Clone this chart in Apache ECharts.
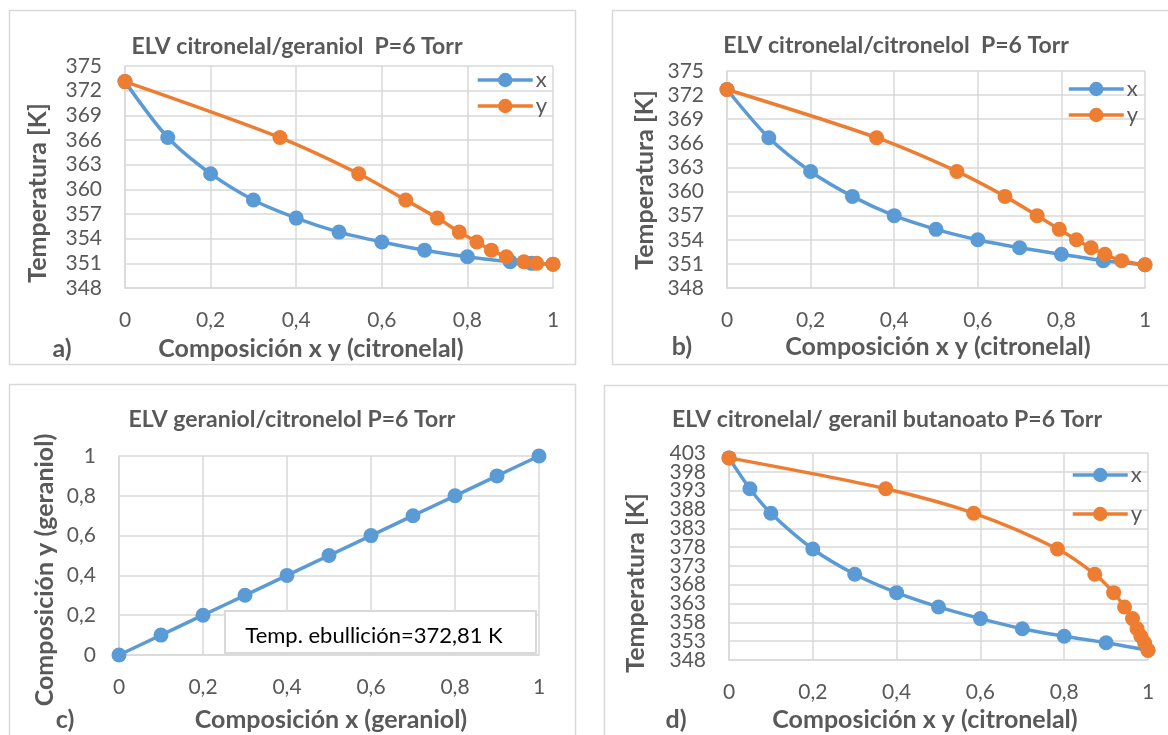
<!DOCTYPE html>
<html>
<head>
<meta charset="utf-8">
<script src="https://cdn.jsdelivr.net/npm/echarts@6/dist/echarts.min.js"></script>
<style>
  html, body { margin: 0; padding: 0; background: #ffffff; }
  #chart { width: 1168px; height: 735px; }
</style>
</head>
<body>
<div id="chart"></div>
<script>
// ---------- data ----------
// a) citronelal / geraniol
const tempA = [373.1, 366.3, 361.9, 358.7, 356.5, 354.8, 353.6, 352.6, 351.8, 351.2, 351.0, 350.9];
const liqA  = [0, 0.1, 0.2, 0.3, 0.4, 0.5, 0.6, 0.7, 0.8, 0.9, 0.95, 1];
const vapA  = [0, 0.362, 0.546, 0.656, 0.730, 0.781, 0.822, 0.856, 0.891, 0.932, 0.962, 1];
// b) citronelal / citronelol
const tempB = [372.7, 366.7, 362.5, 359.4, 357.0, 355.3, 354.0, 353.0, 352.2, 351.4, 350.9];
const liqB  = [0, 0.1, 0.2, 0.3, 0.4, 0.5, 0.6, 0.7, 0.8, 0.9, 1];
const vapB  = [0, 0.358, 0.550, 0.665, 0.742, 0.795, 0.836, 0.871, 0.904, 0.944, 1];
// c) geraniol / citronelol (x-y)
const liqC  = [0, 0.1, 0.2, 0.3, 0.4, 0.5, 0.6, 0.7, 0.8, 0.9, 1];
const vapC  = [0, 0.1, 0.2, 0.3, 0.4, 0.5, 0.6, 0.7, 0.8, 0.9, 1];
// d) citronelal / geranil butanoato
const tempD = [401.7, 393.5, 387.0, 377.5, 370.8, 365.9, 362.1, 359.0, 356.3, 354.3, 352.6, 350.6];
const liqD  = [0, 0.05, 0.1, 0.2, 0.3, 0.4, 0.5, 0.6, 0.7, 0.8, 0.9, 1];
const vapD  = [0, 0.374, 0.584, 0.784, 0.873, 0.918, 0.944, 0.963, 0.974, 0.983, 0.992, 1];

const titles = ['ELV citronelal/geraniol  P=6 Torr', 'ELV citronelal/citronelol  P=6 Torr',
                'ELV geraniol/citronelol P=6 Torr', 'ELV citronelal/ geranil butanoato P=6 Torr'];
const xNames = ['Composición x y (citronelal)', 'Composición x y (citronelal)',
                'Composición x (geraniol)', 'Composición x y (citronelal)'];
const yNames = ['Temperatura [K]', 'Temperatura [K]', 'Composición y (geraniol)', 'Temperatura [K]'];
const panelTags = ['a)', 'b)', 'c)', 'd)'];
const boxNote = 'Temp. ebullición=372,81 K';

// ---------- style ----------
const FONT = 'Lato, "Open Sans", sans-serif';
const GRAY = '#595959';
const GRID = '#d9d9d9';
const BLUE = '#5B9BD5';
const ORANGE = '#ED7D31';

const pairs = (xs, ys) => xs.map((v, i) => [v, ys[i]]);
const fmtComma = v => String(Math.round(v * 10) / 10).replace('.', ',');

const grids = [
  { left: 125, top: 66, width: 428, height: 222 },
  { left: 727, top: 71, width: 418, height: 217 },
  { left: 119, top: 456, width: 420, height: 199 },
  { left: 729, top: 453, width: 419, height: 207 }
];
const yRanges = [
  { min: 348, max: 375, interval: 3 },
  { min: 348, max: 375, interval: 3 },
  { min: 0, max: 1, interval: 0.2 },
  { min: 348, max: 403, interval: 5 }
];

function xAxisCfg(i) {
  return {
    type: 'value', gridIndex: i, min: 0, max: 1, interval: 0.2,
    axisLine: { show: true, onZero: false, lineStyle: { color: GRID, width: 1.5 } },
    axisTick: { show: false },
    splitLine: { show: true, lineStyle: { color: GRID, width: 1.5 } },
    axisLabel: { margin: 22, color: GRAY, fontFamily: FONT, fontSize: 21, formatter: fmtComma,
                 showMinLabel: true, showMaxLabel: true, hideOverlap: false }
  };
}
function yAxisCfg(i) {
  const r = yRanges[i];
  const ends = (i === 3) ? false : true;   // panel d: end labels come from the companion axis
  return {
    type: 'value', gridIndex: i, min: r.min, max: r.max, interval: r.interval,
    axisLine: { show: true, onZero: false, lineStyle: { color: GRID, width: 1.5 } },
    axisTick: { show: false },
    splitLine: { show: true, lineStyle: { color: GRID, width: 1.5 } },
    axisLabel: { margin: 23, color: GRAY, fontFamily: FONT, fontSize: 21,
                 showMinLabel: ends, showMaxLabel: ends, hideOverlap: false,
                 formatter: i === 2 ? fmtComma : (v => String(v)) }
  };
}
// companion axis on panel d carrying only the end labels (348 and 403)
const yEndD = {
  type: 'value', gridIndex: 3, position: 'left',
  min: yRanges[3].min, max: yRanges[3].max, interval: yRanges[3].max - yRanges[3].min,
  axisLine: { show: false }, axisTick: { show: false }, splitLine: { show: false },
  axisLabel: { margin: 23, color: GRAY, fontFamily: FONT, fontSize: 21,
               showMinLabel: true, showMaxLabel: true, formatter: v => String(v) }
};

function lineSeries(name, color, i, data) {
  return {
    type: 'line', name: name, xAxisIndex: i, yAxisIndex: i, data: data,
    smooth: 0.3, symbol: 'circle', symbolSize: 15, showSymbol: true,
    itemStyle: { color: color }, lineStyle: { color: color, width: 3.5 },
    emphasis: { disabled: true }
  };
}
function legendCfg(left, top, gap) {
  return {
    left: left, top: top, orient: 'vertical', data: ['x', 'y'],
    itemWidth: 55, itemHeight: 18, itemGap: gap, selectedMode: false,
    lineStyle: { width: 3.5 },
    textStyle: { color: GRAY, fontFamily: FONT, fontSize: 22, lineHeight: 22, padding: [0, 0, 0, -2] }
  };
}
function txt(text, x, y, size, opts) {
  opts = opts || {};
  return {
    type: 'text', x: x, y: y, rotation: opts.rot || 0, z: 100,
    style: {
      text: text, fill: opts.color || GRAY, align: 'center', verticalAlign: 'middle',
      font: (opts.weight || 'bold') + ' ' + size + 'px ' + FONT
    }
  };
}
function box(x, y, w, h, lw) {
  return { type: 'rect', z: 1, shape: { x: x, y: y, width: w, height: h },
           style: { fill: null, stroke: GRID, lineWidth: lw || 1.5 } };
}

const titlePos = [[297, 47], [896, 46], [292, 420], [887, 420]];
const xNamePos = [[311, 349], [938, 347], [331, 720], [925, 720]];
const tagPos   = [[62, 349], [682, 347], [65, 720], [676, 720]];
const yNamePos = [[38, 193], [645, 180], [45, 570], [636, 583]];

const graphics = [
  box(9.5, 10.5, 566, 354),
  box(612.5, 10.5, 600, 354),
  box(9.5, 384.5, 566, 400),
  box(604.5, 385.5, 600, 400)
];
for (let i = 0; i < 4; i++) {
  graphics.push(txt(titles[i], titlePos[i][0], titlePos[i][1], 23));
  graphics.push(txt(xNames[i], xNamePos[i][0], xNamePos[i][1], 25));
  graphics.push(txt(panelTags[i], tagPos[i][0], tagPos[i][1], 25));
  graphics.push(txt(yNames[i], yNamePos[i][0], yNamePos[i][1], 25, { rot: Math.PI / 2 }));
}
graphics.push({ type: 'rect', z: 90, shape: { x: 225, y: 611, width: 311, height: 42 },
                style: { fill: '#ffffff', stroke: GRID, lineWidth: 2 } });
graphics.push(txt(boxNote, 374, 636, 22, { weight: 'normal', color: '#000000' }));

const option = {
  animation: false,
  backgroundColor: '#ffffff',
  grid: grids,
  xAxis: [0, 1, 2, 3].map(xAxisCfg),
  yAxis: [0, 1, 2, 3].map(yAxisCfg).concat([yEndD]),
  legend: [legendCfg(471, 64, 4), legendCfg(1062, 73, 4), legendCfg(1066, 459, 17)],
  series: [
    lineSeries('x', BLUE, 0, pairs(liqA, tempA)),
    lineSeries('y', ORANGE, 0, pairs(vapA, tempA)),
    lineSeries('x', BLUE, 1, pairs(liqB, tempB)),
    lineSeries('y', ORANGE, 1, pairs(vapB, tempB)),
    lineSeries('x', BLUE, 2, pairs(liqC, vapC)),
    lineSeries('x', BLUE, 3, pairs(liqD, tempD)),
    lineSeries('y', ORANGE, 3, pairs(vapD, tempD))
  ],
  graphic: graphics
};

const chart = echarts.init(document.getElementById('chart'), null, { renderer: 'canvas' });
chart.setOption(option);
</script>
</body>
</html>
